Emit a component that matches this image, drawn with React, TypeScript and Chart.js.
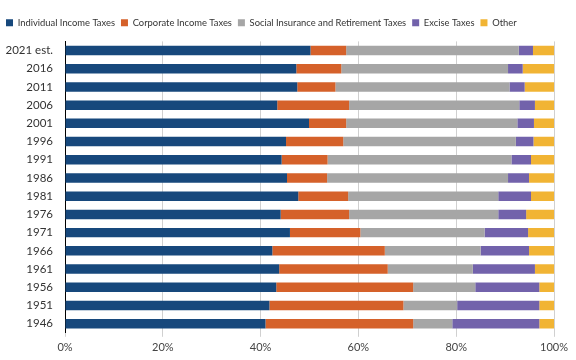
import React, { useEffect, useRef } from "react";
import { Chart, registerables } from "chart.js";

Chart.register(...registerables);

const years = ["2021 est.", "2016", "2011", "2006", "2001", "1996", "1991", "1986", "1981", "1976", "1971", "1966", "1961", "1956", "1951", "1946"];
const individual = [50.2, 47.3, 47.5, 43.4, 49.9, 45.2, 44.3, 45.4, 47.7, 44.1, 46.0, 42.4, 43.8, 43.2, 41.8, 41.0];
const corporate = [7.3, 9.2, 7.8, 14.7, 7.6, 11.7, 9.4, 8.2, 10.2, 14.0, 14.4, 23.0, 22.2, 28.0, 27.4, 30.2];
const socialInsurance = [35.3, 34.1, 35.6, 34.8, 35.0, 35.3, 37.6, 37.0, 30.7, 30.5, 25.4, 19.6, 17.4, 12.7, 11.0, 8.0];
const excise = [2.9, 3.0, 3.1, 3.2, 3.4, 3.6, 4.0, 4.3, 6.7, 5.7, 8.9, 9.9, 12.7, 13.1, 16.8, 17.8];
const other = [4.3, 6.4, 6.0, 3.9, 4.1, 4.2, 4.7, 5.1, 4.7, 5.7, 5.3, 5.1, 3.9, 3.0, 3.0, 3.0];

const seriesNames = ["Individual Income Taxes", "Corporate Income Taxes", "Social Insurance and Retirement Taxes", "Excise Taxes", "Other"];
const seriesColors = ["#17487c", "#d5612a", "#a6a6a6", "#7262ab", "#f1b434"];

const legendGap = {
  id: "legendGap",
  beforeInit(chart: any) {
    const legend = chart.legend;
    if (!legend) return;
    const fit = legend.fit;
    legend.fit = function () {
      fit.call(this);
      this.height += 4;
    };
  },
};

export default function App() {
  const ref = useRef<HTMLCanvasElement | null>(null);
  useEffect(() => {
    document.body.style.margin = "0";
    const font = "Lato, 'Liberation Sans', sans-serif";
    const data = [individual, corporate, socialInsurance, excise, other];
    const chart = new Chart(ref.current!, {
      type: "bar",
      data: {
        labels: years,
        datasets: seriesNames.map((name, i) => ({
          label: name,
          data: data[i],
          backgroundColor: seriesColors[i],
          borderWidth: 0,
          barPercentage: 0.52,
          categoryPercentage: 1,
        })),
      },
      plugins: [legendGap],
      options: {
        indexAxis: "y",
        animation: false,
        responsive: false,
        maintainAspectRatio: false,
        layout: { padding: { left: 0, right: 22, top: 12, bottom: 2 } },
        plugins: {
          legend: {
            position: "top",
            align: "start",
            labels: {
              font: { family: font, size: 9.4 },
              color: "#333",
              boxWidth: 7,
              boxHeight: 7,
              padding: 6,
            },
          },
          tooltip: { enabled: false },
        },
        scales: {
          x: {
            stacked: true,
            min: 0,
            max: 100,
            ticks: {
              stepSize: 20,
              callback: (v: any) => v + "%",
              font: { family: font, size: 11 },
              color: "#444",
              padding: 4,
            },
            grid: { color: "#d0d0d0", tickLength: 4, drawTicks: true },
            border: { display: false },
          },
          y: {
            stacked: true,
            ticks: {
              autoSkip: false,
              font: { family: font, size: 11.5 },
              color: "#333",
              padding: 4,
            },
            grid: { display: false },
            border: { display: true, color: "#000", width: 1 },
            afterFit: (scale: any) => {
              scale.width = 65;
            },
          },
        },
      },
    });
    return () => chart.destroy();
  }, []);
  return (
    <div style={{ width: 576, height: 360, position: "relative" }}>
      <canvas ref={ref} width={576} height={360} style={{ width: 576, height: 360 }} />
    </div>
  );
}
